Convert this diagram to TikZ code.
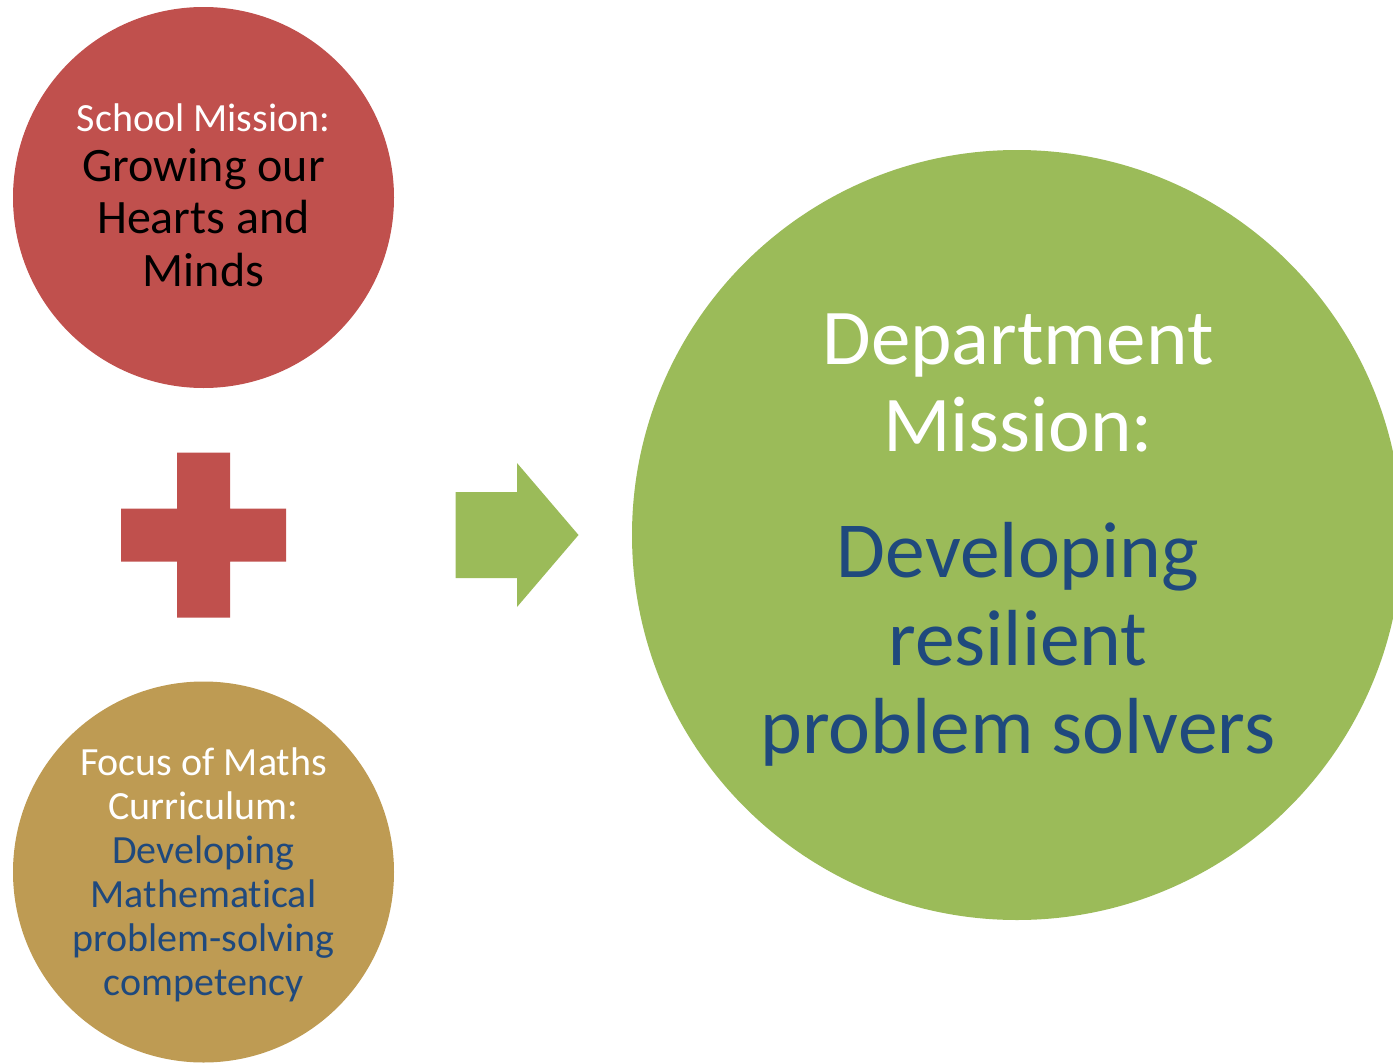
\documentclass[tikz,border=0pt]{standalone}
\usepackage{fontspec}
\setmainfont{Carlito}[Ligatures=NoCommon]
\definecolor{cred}{HTML}{C0504D}
\definecolor{cgold}{HTML}{BE9B53}
\definecolor{cgreen}{HTML}{9BBB59}
\definecolor{cblue}{HTML}{1F497D}
\begin{document}
\begin{tikzpicture}[x=1pt,y=-1pt,
  disc/.style={circle,inner sep=0pt,draw=none},
  lbl/.style={align=center,inner sep=0pt,anchor=base}]
\useasboundingbox (0,0) rectangle (1393,1063);
\clip (0,0) rectangle (1393,1063);
% circles
\node[disc,fill=cred,minimum size=381pt] (school) at (203.5,197.5) {};
\node[disc,fill=cgold,minimum size=381pt] (focus) at (203.5,872) {};
\node[disc,fill=cgreen,minimum size=770pt] (dept) at (1017,535) {};
% red circle text (anchor base = last line)
\node[lbl,text=white,font=\fontsize{40}{48}\selectfont] (schooltitle) at (203.5,131) {School Mission:};
\node[lbl,text=black,font=\fontsize{48}{52.5}\selectfont] (schoolbody) at (203.5,286) {Growing our\\Hearts and\\Minds};
% gold circle text
\node[lbl,text=white,font=\fontsize{40}{44}\selectfont] (focustitle) at (203.5,819) {Focus of Maths\\Curriculum:};
\node[lbl,text=cblue,font=\fontsize{40}{43.7}\selectfont] (focusbody) at (203.5,995) {Developing\\Mathematical\\problem-solving\\competency};
% green circle text
\node[lbl,text=white,font=\fontsize{79}{87}\selectfont] (depttitle) at (1018,451) {Department\\Mission:};
\node[lbl,text=cblue,font=\fontsize{79.5}{88}\selectfont] (deptbody) at (1018,753) {Developing\\resilient\\problem solvers};
% plus sign
\fill[cred] (177,452.5) -- (230,452.5) -- (230,508.5) -- (286,508.5) -- (286,561.5) -- (230,561.5)
  -- (230,617.5) -- (177,617.5) -- (177,561.5) -- (121,561.5) -- (121,508.5) -- (177,508.5) -- cycle;
% arrow
\fill[cgreen] (455.5,492) -- (517,492) -- (517,463) -- (578.5,535) -- (517,607) -- (517,578) -- (455.5,578) -- cycle;
\end{tikzpicture}
\end{document}
